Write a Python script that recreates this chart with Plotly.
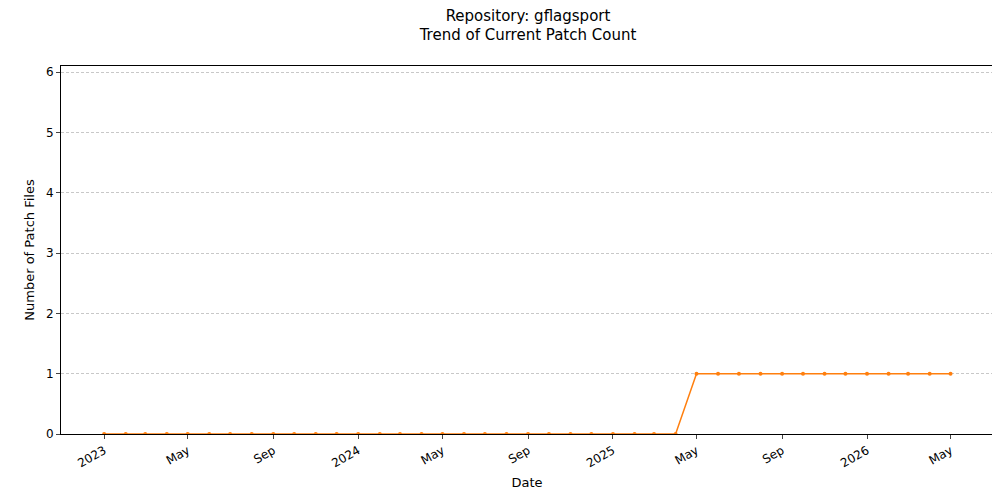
import plotly.graph_objects as go
import pandas as pd

dates = pd.date_range("2023-01-01", "2026-05-01", freq="MS")
counts = [0]*28 + [1]*13
tick_vals = ["2023-01-01","2023-05-01","2023-09-01","2024-01-01","2024-05-01","2024-09-01",
             "2025-01-01","2025-05-01","2025-09-01","2026-01-01","2026-05-01"]
tick_text = ["2023","May","Sep","2024","May","Sep","2025","May","Sep","2026","May"]

fig = go.Figure(go.Scatter(x=dates, y=counts, mode="lines+markers",
    line=dict(color="#ff7f0e", width=1.5), marker=dict(size=4, color="#ff7f0e")))
fig.update_layout(
    width=1000, height=500, plot_bgcolor="white", paper_bgcolor="white",
    margin=dict(l=53, r=15, t=58, b=74, autoexpand=False),
    font=dict(family="DejaVu Sans", size=12, color="black"),
    title=dict(text="Repository: gflagsport<br>Trend of Current Patch Count", x=0.52, xanchor="center",
               y=0.975, yanchor="top", font=dict(size=15)),
    showlegend=False,
)
fig.update_xaxes(range=["2022-10-31", "2026-07-01"], tickvals=tick_vals, ticktext=tick_text,
    tickangle=-30, showgrid=False, showline=True, linecolor="black", mirror=True, automargin=False,
    ticks="outside", ticklen=4, title=dict(text="Date", font=dict(size=13), standoff=8))
fig.update_yaxes(range=[0, 6.1], tickvals=[0,1,2,3,4,5,6], showgrid=True, gridcolor="#c8c8c8",
    griddash="3px,2px", gridwidth=0.6, zeroline=False, showline=True, linecolor="black", mirror=True,
    automargin=False, ticks="outside", ticklen=4,
    title=dict(text="Number of Patch Files", font=dict(size=13), standoff=8))
fig.write_html("out.html")
